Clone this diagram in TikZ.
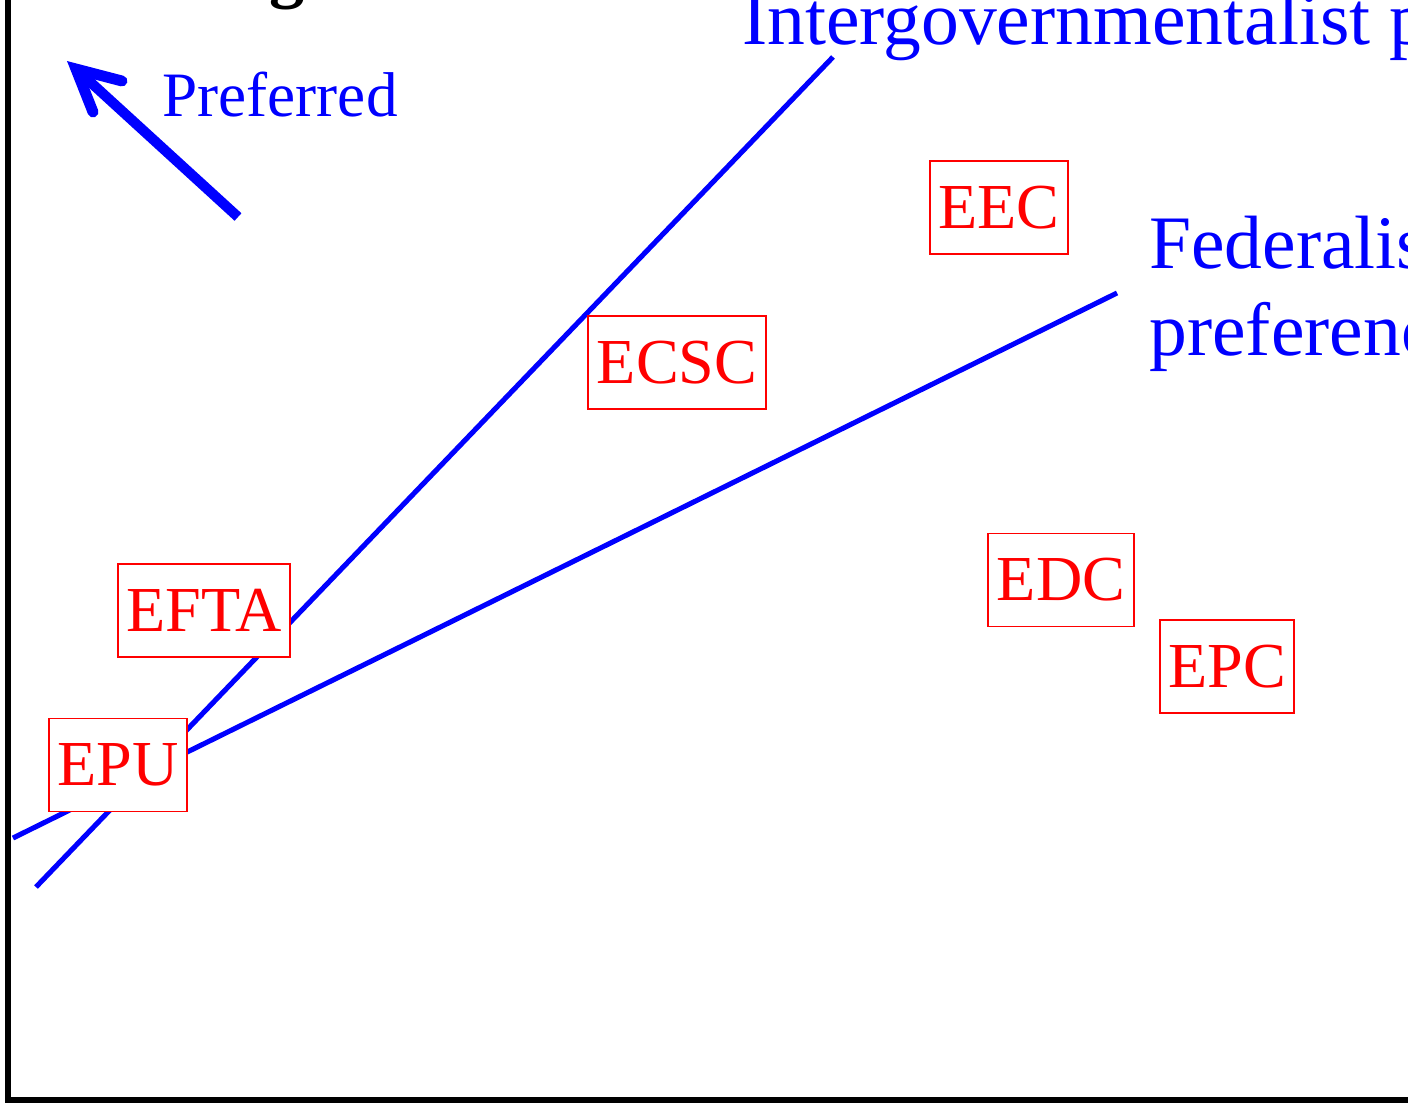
\documentclass[tikz,border=0pt]{standalone}
\usepackage{fontspec}
\setmainfont{Liberation Serif}
\begin{document}
\begin{tikzpicture}[x=0.02cm,y=-0.02cm,
  bluelbl/.style={text=blue,inner sep=0pt,anchor=base west},
  bluerule/.style={draw=blue,line width=2.9pt},
  orgbox/.style={draw=red,fill=white,text=red,line width=1pt,inner sep=0pt,
    minimum height=93*0.02cm,font=\fontsize{36.5}{40}\selectfont}]
\useasboundingbox (0,0) rectangle (1408,1103);
\clip (0,0) rectangle (1408,1103);
% axes
\coordinate (origin) at (8,1100);
\coordinate (ytop) at (8,-10);
\coordinate (xend) at (1420,1100);
\draw[line width=3.4pt] (ytop) -- (origin) -- (xend);
% cut-off axis title
\node[inner sep=0pt,anchor=base west,font=\fontsize{40}{44}\selectfont\bfseries] (ttl) at (269,-6) {g};
% preference lines
\coordinate (ig1) at (36,887);
\coordinate (ig2) at (833,57);
\coordinate (fd1) at (13,838);
\coordinate (fd2) at (1117,293);
\draw[bluerule] (ig1) -- (ig2);
\draw[bluerule] (fd1) -- (fd2);
% preferred arrow
\coordinate (tail) at (238,217);
\coordinate (tip) at (76,69);
\coordinate (arm1) at (122,81);
\coordinate (arm2) at (93,112);
\draw[blue,line width=5.8pt] (tail) -- (tip);
\draw[blue,line width=6.2pt,line cap=round,line join=miter] (arm1) -- (tip) -- (arm2);
\node[bluelbl,font=\fontsize{36}{40}\selectfont] (pref) at (162,116) {Preferred};
\node[bluelbl,font=\fontsize{43}{49}\selectfont] (igl) at (742,44) {Intergovernmentalist preferences};
\node[bluelbl,font=\fontsize{43}{49}\selectfont] (fdl) at (1149,268) {Federalist};
\node[bluelbl,font=\fontsize{43}{49}\selectfont] (fdl2) at (1149,355) {preferences};
% organisations
\node[orgbox,minimum width=138*0.02cm] (eec) at (999,207.5) {EEC};
\node[orgbox,minimum width=178*0.02cm] (ecsc) at (677,362.5) {ECSC};
\node[orgbox,minimum width=172*0.02cm] (efta) at (204,610.5) {EFTA};
\node[orgbox,minimum width=138*0.02cm] (epu) at (118,765) {EPU};
\node[orgbox,minimum width=146*0.02cm] (edc) at (1061,580) {EDC};
\node[orgbox,minimum width=134*0.02cm] (epc) at (1227,666.5) {EPC};
\end{tikzpicture}
\end{document}
